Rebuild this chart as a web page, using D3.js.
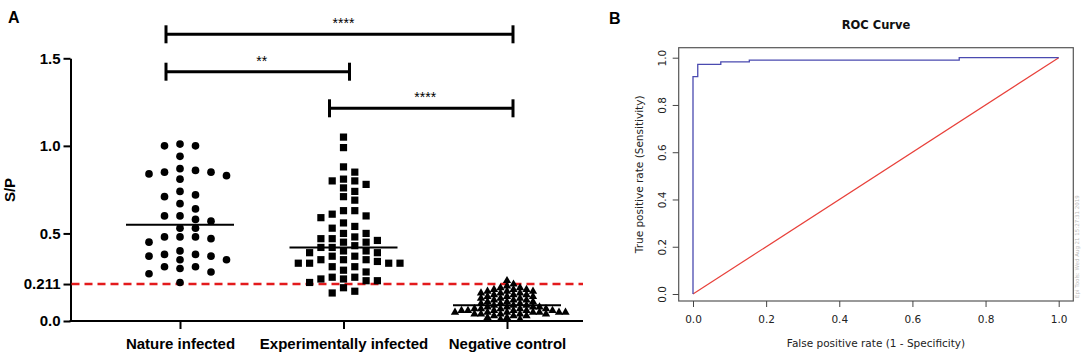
<!DOCTYPE html>
<html>
<head>
<meta charset="utf-8">
<script src="https://cdn.jsdelivr.net/npm/d3@7"></script>
<style>
  body { margin: 0; background: #fff; }
  svg { display: block; }
</style>
</head>
<body>
<div id="chart"></div>
<script>
// ---- Panel A data: S/P values ----
const groups = ['Nature infected', 'Experimentally infected', 'Negative control'];

const natureInfected = [1.01, 1.00, 1.00, 0.94, 0.87, 0.86, 0.85, 0.85, 0.84, 0.83, 0.81,
  0.74, 0.72, 0.71, 0.67, 0.64, 0.60, 0.60, 0.58, 0.57, 0.53, 0.53,
  0.48, 0.48, 0.48, 0.47, 0.45, 0.40, 0.38, 0.38, 0.37, 0.37, 0.35, 0.35,
  0.31, 0.31, 0.30, 0.28, 0.27, 0.22];

const experimentallyInfected = [1.05, 0.99, 0.88, 0.85, 0.81, 0.80, 0.80, 0.78, 0.76, 0.74,
  0.71, 0.69, 0.63, 0.63, 0.61, 0.60, 0.59, 0.56, 0.54, 0.53, 0.50, 0.50,
  0.48, 0.47, 0.47, 0.46, 0.45, 0.45, 0.43, 0.42, 0.42, 0.40, 0.40, 0.39, 0.39,
  0.37, 0.37, 0.35, 0.35, 0.35, 0.34, 0.33, 0.33, 0.33, 0.33, 0.31, 0.31,
  0.29, 0.28, 0.25, 0.25, 0.24, 0.24, 0.23, 0.23, 0.22, 0.19, 0.17, 0.16];

const negativeControl = [0.23, 0.21, 0.20, 0.19, 0.19, 0.18, 0.18, 0.18, 0.17, 0.17,
  0.17, 0.16, 0.16, 0.16, 0.15, 0.15, 0.15, 0.14, 0.14, 0.14, 0.13, 0.13,
  0.13, 0.12, 0.12, 0.12, 0.11, 0.11, 0.11, 0.10, 0.10, 0.10, 0.09, 0.09,
  0.09, 0.08, 0.08, 0.08, 0.08, 0.07, 0.07, 0.07, 0.07, 0.07, 0.06, 0.06,
  0.06, 0.06, 0.06, 0.06, 0.05, 0.05, 0.05, 0.05, 0.05, 0.05, 0.05, 0.04,
  0.04, 0.04, 0.04, 0.04, 0.03, 0.03, 0.03, 0.02, 0.02, 0.01, 0.01];

const cutoff = 0.211;
const spTicks = [0, 0.211, 0.5, 1.0, 1.5];
const comparisons = [
  { from: 'Nature infected', to: 'Negative control', label: '****' },
  { from: 'Nature infected', to: 'Experimentally infected', label: '**' },
  { from: 'Experimentally infected', to: 'Negative control', label: '****' }
];

// ---- Panel B data: ROC curve corners ----
const rocFpr = [0, 0, 0.013, 0.076, 0.154, 0.728, 1];
const rocTpr = [0, 0.92, 0.972, 0.982, 0.99, 1, 1];
const rocTicks = [0, 0.2, 0.4, 0.6, 0.8, 1.0];

const svg = d3.select('#chart')
  .append('svg')
  .attr('width', 1084)
  .attr('height', 352);

// Beeswarm: push each point sideways until it clears its neighbours
function swarmOffsets(values, y, sepX, sepY) {
  const step = sepX / 2;
  const order = d3.range(values.length).sort((a, b) => values[b] - values[a]);
  const placed = [];
  const dx = new Array(values.length);
  order.forEach(i => {
    const py = y(values[i]);
    const near = placed.filter(p => Math.abs(p.y - py) < sepY);
    for (let k = 0; ; k++) {
      const off = k === 0 ? 0 : (k % 2 ? 1 : -1) * Math.ceil(k / 2) * step;
      if (near.every(p => Math.abs(p.dx - off) >= sepX - 0.01)) {
        dx[i] = off;
        placed.push({ y: py, dx: off });
        break;
      }
    }
  });
  return dx;
}

// ================= Panel A =================
const fontA = "'Liberation Sans', Arial, sans-serif";
const a = svg.append('g');

const yA = d3.scaleLinear().domain([0, 1.5]).range([321, 58.3]);
const xA = d3.scalePoint().domain(groups).range([180, 507]);
const axisLeftX = 70.5, axisRightX = 583;

// Y axis
a.append('g')
  .attr('transform', `translate(${axisLeftX},0)`)
  .call(d3.axisLeft(yA)
    .tickValues(spTicks)
    .tickSize(7)
    .tickSizeOuter(0)
    .tickPadding(3)
    .tickFormat(d => d === cutoff ? '0.211' : d3.format('.1f')(d)))
  .call(g => g.select('.domain').attr('stroke', '#000').attr('stroke-width', 2))
  .call(g => g.selectAll('.tick line').attr('stroke', '#000').attr('stroke-width', 2))
  .call(g => g.selectAll('.tick text')
    .attr('fill', '#000')
    .style('font-family', fontA)
    .style('font-weight', 'bold')
    .style('font-size', '15px'));

// X axis line and ticks
a.append('line')
  .attr('x1', axisLeftX - 1).attr('x2', axisRightX)
  .attr('y1', yA(0)).attr('y2', yA(0))
  .attr('stroke', '#000').attr('stroke-width', 2);

a.append('g')
  .attr('transform', `translate(0,${yA(0)})`)
  .call(d3.axisBottom(xA).tickSize(8).tickPadding(9))
  .call(g => g.select('.domain').remove())
  .call(g => g.selectAll('.tick line').attr('stroke', '#000').attr('stroke-width', 2))
  .call(g => g.selectAll('.tick text')
    .attr('fill', '#000')
    .style('font-family', fontA)
    .style('font-weight', 'bold')
    .style('font-size', '15px'));

// Y axis title
a.append('text')
  .attr('transform', 'translate(15,190) rotate(-90)')
  .attr('text-anchor', 'middle')
  .style('font-family', fontA)
  .style('font-weight', 'bold')
  .style('font-size', '15px')
  .text('S/P');

// Panel letter
a.append('text')
  .attr('x', 8).attr('y', 23)
  .style('font-family', fontA)
  .style('font-weight', 'bold')
  .style('font-size', '16px')
  .text('A');

// Cut-off line
a.append('line')
  .attr('x1', axisLeftX + 1).attr('x2', axisRightX)
  .attr('y1', yA(cutoff)).attr('y2', yA(cutoff))
  .attr('stroke', '#e31a1c')
  .attr('stroke-width', 2.5)
  .attr('stroke-dasharray', '8,5');

// Points
const seriesA = [
  { name: groups[0], values: natureInfected, shape: d3.symbolCircle, size: 46, sepX: 15.5, sepY: 8 },
  { name: groups[1], values: experimentallyInfected, shape: d3.symbolSquare, size: 52, sepX: 11.3, sepY: 7.5 },
  { name: groups[2], values: negativeControl, shape: d3.symbolTriangle, size: 30, sepX: 6.5, sepY: 3.6 }
];

seriesA.forEach(s => {
  const offs = swarmOffsets(s.values, yA, s.sepX, s.sepY);
  a.append('g').selectAll('path')
    .data(s.values)
    .enter()
    .append('path')
    .attr('transform', (d, i) => `translate(${xA(s.name) + offs[i]},${yA(d)})`)
    .attr('d', d3.symbol().type(s.shape).size(s.size))
    .attr('fill', '#000');

  // Median line
  const med = d3.median(s.values);
  a.append('line')
    .attr('x1', xA(s.name) - 54).attr('x2', xA(s.name) + 54)
    .attr('y1', yA(med)).attr('y2', yA(med))
    .attr('stroke', '#000').attr('stroke-width', 2);
});

// Significance brackets
const bracketY = [34.3, 71.7, 108.3];
comparisons.forEach((c, i) => {
  const x1 = xA(c.from) - 14, x2 = xA(c.to) + 6, by = bracketY[i];
  const g = a.append('g').attr('stroke', '#000').attr('stroke-width', 3);
  g.append('line').attr('x1', x1).attr('x2', x2).attr('y1', by).attr('y2', by);
  g.append('line').attr('x1', x1).attr('x2', x1).attr('y1', by - 9).attr('y2', by + 9);
  g.append('line').attr('x1', x2).attr('x2', x2).attr('y1', by - 9).attr('y2', by + 9);
  a.append('text')
    .attr('x', (x1 + x2) / 2 + 4)
    .attr('y', by - 6)
    .attr('text-anchor', 'middle')
    .style('font-family', fontA)
    .style('font-size', '14px')
    .text(c.label);
});

// ================= Panel B =================
const fontB = "'DejaVu Sans', sans-serif";
const b = svg.append('g');

const xB = d3.scaleLinear().domain([0, 1]).range([693, 1058.7]);
const yB = d3.scaleLinear().domain([0, 1]).range([294, 57.7]);
const box = { left: 678.7, right: 1073.3, top: 47.7, bottom: 301 };

b.append('text')
  .attr('x', 609).attr('y', 24)
  .style('font-family', fontA)
  .style('font-weight', 'bold')
  .style('font-size', '16px')
  .text('B');

b.append('text')
  .attr('x', (box.left + box.right) / 2).attr('y', 28.7)
  .attr('text-anchor', 'middle')
  .style('font-family', fontB)
  .style('font-weight', 'bold')
  .style('font-size', '11.5px')
  .attr('fill', '#111')
  .text('ROC Curve');

// Chance diagonal
b.append('line')
  .attr('x1', xB(0)).attr('y1', yB(0))
  .attr('x2', xB(1)).attr('y2', yB(1))
  .attr('stroke', '#e8403a').attr('stroke-width', 1.2);

// ROC curve
const rocPoints = rocFpr.map((f, i) => [f, rocTpr[i]]);
b.append('path')
  .datum(rocPoints)
  .attr('fill', 'none')
  .attr('stroke', '#4a4ab0')
  .attr('stroke-width', 1.3)
  .attr('d', d3.line().x(d => xB(d[0])).y(d => yB(d[1])).curve(d3.curveStepAfter));

// Plot frame
b.append('rect')
  .attr('x', box.left).attr('y', box.top)
  .attr('width', box.right - box.left).attr('height', box.bottom - box.top)
  .attr('fill', 'none').attr('stroke', '#555').attr('stroke-width', 1.2);

// X axis
b.append('g')
  .attr('transform', `translate(0,${box.bottom})`)
  .call(d3.axisBottom(xB).tickValues(rocTicks).tickFormat(d3.format('.1f')).tickSize(6).tickSizeOuter(0).tickPadding(8.5))
  .call(g => g.select('.domain').remove())
  .call(g => g.selectAll('.tick line').attr('stroke', '#444'))
  .call(g => g.selectAll('.tick text')
    .attr('fill', '#222')
    .style('font-family', fontB)
    .style('font-size', '10.5px'));

// Y axis with rotated labels
b.append('g')
  .attr('transform', `translate(${box.left},0)`)
  .call(d3.axisLeft(yB).tickValues(rocTicks).tickFormat(d3.format('.1f')).tickSize(6).tickSizeOuter(0))
  .call(g => g.select('.domain').remove())
  .call(g => g.selectAll('.tick line').attr('stroke', '#444'))
  .call(g => g.selectAll('.tick text')
    .attr('transform', 'rotate(-90)')
    .attr('x', 0)
    .attr('y', -13)
    .attr('dy', 0)
    .attr('text-anchor', 'middle')
    .attr('fill', '#222')
    .style('font-family', fontB)
    .style('font-size', '10.5px'));

b.append('text')
  .attr('x', (box.left + box.right) / 2).attr('y', 346.5)
  .attr('text-anchor', 'middle')
  .attr('fill', '#222')
  .style('font-family', fontB)
  .style('font-size', '10.5px')
  .text('False positive rate (1 - Specificity)');

b.append('text')
  .attr('transform', `translate(642.5,${(box.top + box.bottom) / 2}) rotate(-90)`)
  .attr('text-anchor', 'middle')
  .attr('fill', '#222')
  .style('font-family', fontB)
  .style('font-size', '10.5px')
  .text('True positive rate (Sensitivity)');

// Tool stamp along the right edge
b.append('text')
  .attr('transform', 'translate(1079,298) rotate(-90)')
  .attr('fill', '#bbb')
  .style('font-family', fontB)
  .style('font-size', '5.5px')
  .text('Epi Tools: Wed Aug 21 15:27:31 2019');
</script>
</body>
</html>
